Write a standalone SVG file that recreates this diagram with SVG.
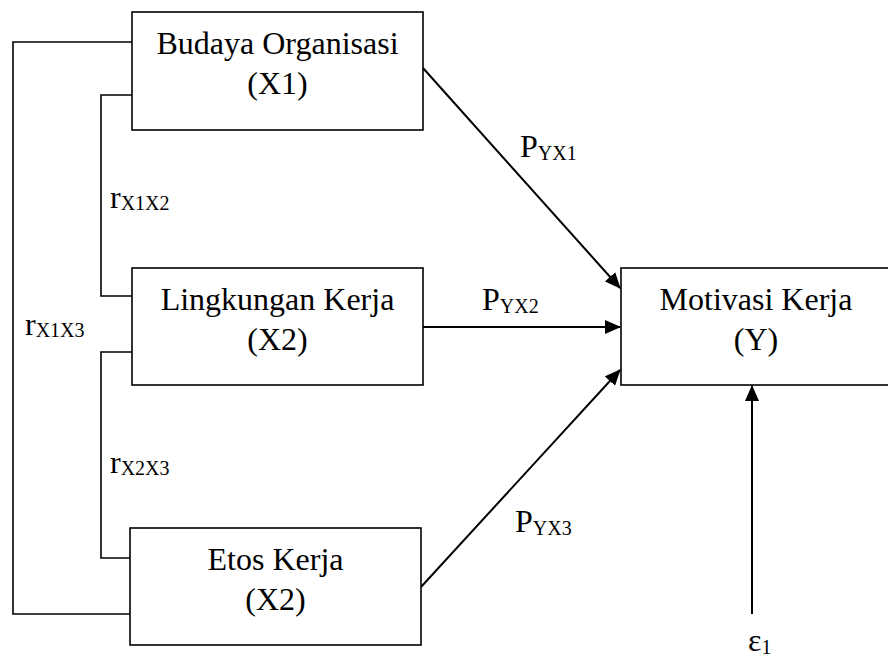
<svg xmlns="http://www.w3.org/2000/svg" width="888" height="662" viewBox="0 0 888 662">
<style>
.box{fill:#fff;stroke:#000;stroke-width:1.6}
.t{font-family:"Liberation Serif","Times New Roman",serif;font-size:32px;fill:#000}
.c{text-anchor:middle}
.sub{font-size:20px}
.link{fill:none;stroke:#000;stroke-width:1.6}
.arr{fill:none;stroke:#000;stroke-width:2;marker-end:url(#ah)}
</style>
<defs>
<marker id="ah" markerUnits="userSpaceOnUse" markerWidth="16" markerHeight="14" refX="15" refY="7" orient="auto">
<path d="M0,0 L16,7 L0,14 Z" fill="#000"/>
</marker>
</defs>
<rect width="888" height="662" fill="#fff"/>
<g id="connectors">
<path class="link" d="M132,42 H13 V614 H130"/>
<path class="link" d="M132,95 H101 V296 H132"/>
<path class="link" d="M132,352 H101 V558 H130"/>
<line class="arr" x1="423" y1="68" x2="620" y2="288"/>
<line class="arr" x1="423" y1="327" x2="620" y2="327"/>
<line class="arr" x1="421" y1="587" x2="620" y2="370"/>
<line class="arr" x1="752" y1="614" x2="752" y2="386"/>
<text class="t" x="520" y="157">P<tspan class="sub" dy="3">YX1</tspan></text>
<text class="t" x="482" y="310">P<tspan class="sub" dy="3">YX2</tspan></text>
<text class="t" x="515" y="532">P<tspan class="sub" dy="3">YX3</tspan></text>
<text class="t" x="110" y="208">r<tspan class="sub" dy="2">X1X2</tspan></text>
<text class="t" x="25" y="335">r<tspan class="sub" dy="2">X1X3</tspan></text>
<text class="t" x="110" y="473">r<tspan class="sub" dy="2">X2X3</tspan></text>
<text class="t" x="748" y="651">ε<tspan class="sub" dy="3">1</tspan></text>
</g>
<g id="x1">
<rect class="box" x="132" y="12" width="291" height="118"/>
<text class="t c" x="277.5" y="54">Budaya Organisasi</text>
<text class="t c" x="277.5" y="94">(X1)</text>
</g>
<g id="x2">
<rect class="box" x="132" y="268" width="291" height="117"/>
<text class="t c" x="277.5" y="310">Lingkungan Kerja</text>
<text class="t c" x="277.5" y="350">(X2)</text>
</g>
<g id="x3">
<rect class="box" x="130" y="528" width="291" height="117"/>
<text class="t c" x="275.5" y="570">Etos Kerja</text>
<text class="t c" x="275.5" y="610">(X2)</text>
</g>
<g id="y">
<rect class="box" x="621" y="268" width="270" height="117"/>
<text class="t c" x="756" y="310">Motivasi Kerja</text>
<text class="t c" x="756" y="350">(Y)</text>
</g>
</svg>
